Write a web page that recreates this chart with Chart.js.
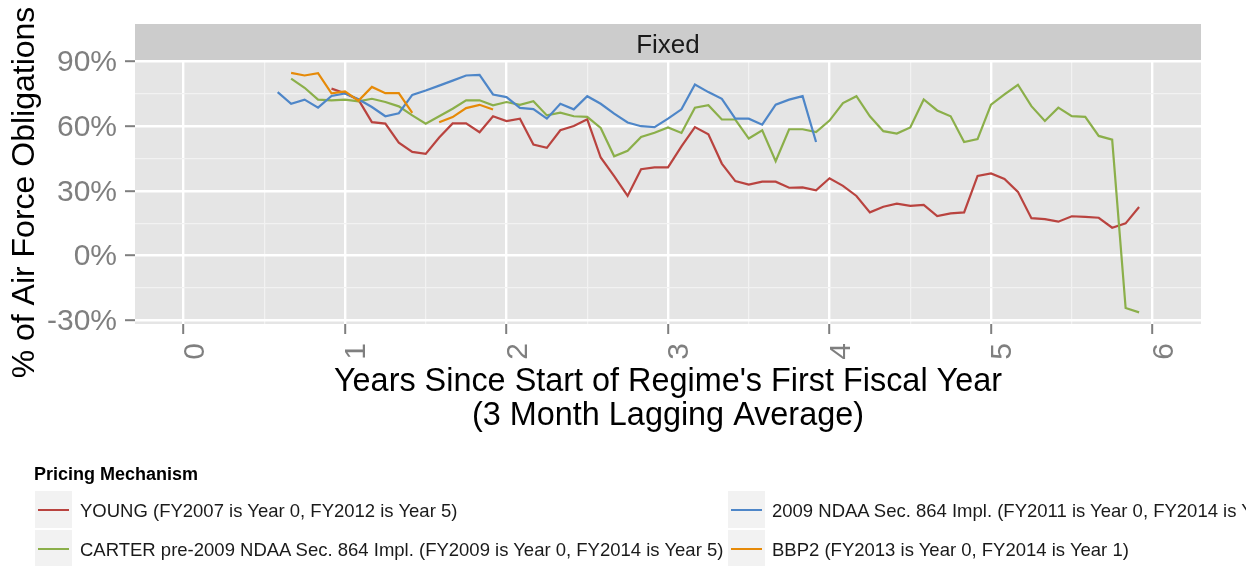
<!DOCTYPE html>
<html><head><meta charset="utf-8">
<script src="https://cdn.jsdelivr.net/npm/chart.js@4.4.1/dist/chart.umd.min.js"></script>
<style>
html,body{margin:0;padding:0;background:#fff;overflow:hidden;}
#wrap{position:relative;width:1246px;height:566px;overflow:hidden;font-family:"Liberation Sans",Arial,sans-serif;}
#c{position:absolute;left:0;top:0;}
.lg-title{position:absolute;left:34px;top:465px;font-size:18px;line-height:18px;font-weight:bold;color:#000;white-space:nowrap;}
.lg-key{position:absolute;width:37px;height:37px;background:#f2f2f2;}
.lg-key span{position:absolute;left:3px;right:3px;top:17.5px;height:2px;}
.lg-text{position:absolute;font-size:18.5px;line-height:18px;color:#1a1a1a;white-space:nowrap;}
</style></head><body>
<div id="wrap"><canvas id="c" width="1246" height="566"></canvas><div id="legend"></div></div>
<script>
// ---------------- DATA ----------------
const stripLabel = "Fixed";
const legendTitle = "Pricing Mechanism";
const seriesLabels = [
  "YOUNG (FY2007 is Year 0, FY2012 is Year 5)",
  "CARTER pre-2009 NDAA Sec. 864 Impl. (FY2009 is Year 0, FY2014 is Year 5)",
  "2009 NDAA Sec. 864 Impl. (FY2011 is Year 0, FY2014 is Year 3)",
  "BBP2 (FY2013 is Year 0, FY2014 is Year 1)"
];
// first month (months since start of regime's first fiscal year) of each series
const seriesStartMonths = [11, 8, 7, 8];
// monthly values, % of Air Force obligations (3 month lagging average)
const youngValues = [
  77.3,75.2,72.2,61.8,61.1,52.3,48.0,47.1,54.7,61.2,
  61.2,57.1,64.5,62.3,63.4,51.4,49.9,58.0,60.0,63.1,
  45.4,36.8,27.6,40.0,40.8,40.8,50.6,59.5,56.2,42.6,
  34.5,32.9,34.2,34.2,31.4,31.6,30.2,35.8,32.3,27.6,
  20.0,22.6,24.0,23.0,23.5,18.3,19.5,20.0,36.9,38.0,
  35.5,29.5,17.3,16.9,15.7,18.2,17.9,17.5,12.9,14.9,
  22.5
];
const carterValues = [
  81.9,77.7,72.2,71.9,72.2,71.4,72.6,71.1,69.1,64.9,
  61.1,64.5,68.0,71.9,71.9,69.6,71.1,69.8,71.5,64.9,
  66.2,64.5,64.2,59.1,46.0,48.5,54.9,56.9,59.3,56.8,
  68.5,69.6,63.0,63.0,54.2,58.0,43.7,58.5,58.5,57.2,
  62.5,70.6,73.8,64.5,57.6,56.5,59.3,72.3,67.2,64.5,
  52.6,53.9,69.9,74.6,79.1,69.2,62.3,68.5,64.6,64.2,
  55.4,53.7,-24.3,-26.3
];
const ndaaValues = [
  75.7,70.3,72.2,68.5,73.9,75.1,72.4,68.8,64.5,65.9,
  74.4,76.4,78.7,81.0,83.4,83.7,74.6,73.4,68.4,67.8,
  63.4,70.3,67.7,73.8,70.3,65.7,61.6,59.9,59.5,63.4,
  67.7,79.2,75.7,72.6,63.4,63.4,60.6,69.9,72.2,73.8,
  52.6
];
const bbp2Values = [84.6,83.4,84.5,75.1,76.0,71.7,78.1,75.2,75.2,66.1,null,61.7,64.1,68.3,69.8,67.6];
const seriesValues = [youngValues, carterValues, ndaaValues, bbp2Values];
const seriesColors = ["#B9433F", "#8BAF4A", "#4E86C8", "#E68A08"];

const xTickLabels = [0, 1, 2, 3, 4, 5, 6];
const xMinorTicks = [0.5, 1.5, 2.5, 3.5, 4.5, 5.5];
const yTickLabels = [-30, 0, 30, 60, 90];
const yMinorTicks = [-15, 15, 45, 75];
const xTitle = ["Years Since Start of Regime's First Fiscal Year", "(3 Month Lagging Average)"];
const yTitle = "% of Air Force Obligations";

// ---------------- CHART ----------------
const FONT = '"Liberation Sans", Arial, sans-serif';
Chart.defaults.font.family = FONT;

const datasets = seriesLabels.map((label, s) => ({
  label,
  data: seriesValues[s].map((v, i) => ({ x: (seriesStartMonths[s] + i) / 12, y: v })),
  borderColor: seriesColors[s],
  backgroundColor: seriesColors[s],
  borderWidth: 2.2,
  pointRadius: 0,
  tension: 0,
  spanGaps: false,
  order: seriesLabels.length - s
}));

const panelPlugin = {
  id: 'panel',
  beforeDraw(chart) {
    const { ctx, chartArea: a } = chart;
    ctx.save();
    ctx.fillStyle = '#e5e5e5';
    ctx.fillRect(a.left, a.top, a.right - a.left, a.bottom - a.top);
    ctx.fillStyle = '#cccccc';
    ctx.fillRect(a.left, 24, a.right - a.left, a.top - 24);
    ctx.fillStyle = '#1a1a1a';
    ctx.font = '26px ' + FONT;
    ctx.textAlign = 'center';
    ctx.textBaseline = 'alphabetic';
    ctx.fillText(stripLabel, (a.left + a.right) / 2, 53);
    ctx.restore();
  }
};

function setTicks(major, minor) {
  return scale => {
    scale.ticks = major.concat(minor).sort((a, b) => a - b).map(v => ({ value: v }));
  };
}
const isMajor = (list, v) => list.some(t => Math.abs(t - v) < 1e-9);

new Chart(document.getElementById('c'), {
  type: 'line',
  data: { datasets },
  plugins: [panelPlugin],
  options: {
    responsive: false,
    animation: false,
    devicePixelRatio: 1,
    layout: { padding: { top: 61, right: 45, bottom: 0, left: 0 } },
    plugins: { legend: { display: false }, tooltip: { enabled: false } },
    scales: {
      x: {
        type: 'linear',
        min: -0.3, max: 6.3,
        afterBuildTicks: setTicks(xTickLabels, xMinorTicks),
        afterFit: s => { s.height = 242; },
        border: { display: false },
        grid: {
          color: c => isMajor(xTickLabels, c.tick.value) ? '#ffffff' : '#f2f2f2',
          lineWidth: c => isMajor(xTickLabels, c.tick.value) ? 2.4 : 1.2,
          tickColor: c => isMajor(xTickLabels, c.tick.value) ? '#7f7f7f' : 'rgba(0,0,0,0)',
          tickWidth: 2, tickLength: 10, drawTicks: true
        },
        ticks: {
          autoSkip: false, minRotation: 90, maxRotation: 90, padding: 9, labelOffset: 12,
          color: '#7f7f7f', font: { size: 30 },
          callback: v => isMajor(xTickLabels, v) ? String(v) : ''
        },
        title: {
          display: true, text: xTitle, color: '#000',
          font: { size: 32.4, lineHeight: 1.03 },
          padding: { top: 0, bottom: 133.6 }
        }
      },
      y: {
        type: 'linear',
        min: -31.7, max: 90.1,
        afterBuildTicks: setTicks(yTickLabels, yMinorTicks),
        afterFit: s => { s.width = 135; },
        border: { display: false },
        grid: {
          color: c => isMajor(yTickLabels, c.tick.value) ? '#ffffff' : '#f2f2f2',
          lineWidth: c => isMajor(yTickLabels, c.tick.value) ? 2.4 : 1.2,
          tickColor: c => isMajor(yTickLabels, c.tick.value) ? '#7f7f7f' : 'rgba(0,0,0,0)',
          tickWidth: 2, tickLength: 10, drawTicks: true
        },
        ticks: {
          autoSkip: false, padding: 8, labelOffset: 1.5,
          color: '#7f7f7f', font: { size: 30 },
          callback: v => isMajor(yTickLabels, v) ? v + '%' : ''
        },
        title: {
          display: true, text: yTitle, color: '#000',
          font: { size: 32, lineHeight: 1.2 },
          padding: { top: 6, bottom: 0 }
        }
      }
    }
  }
});

// ---------------- LEGEND (HTML, from the series arrays) ----------------
const lg = document.getElementById('legend');
const t = document.createElement('div');
t.className = 'lg-title'; t.textContent = legendTitle; lg.appendChild(t);
const keyLeft = [35, 728], textLeft = [80, 772], rowTop = [491, 530];
seriesLabels.forEach((label, i) => {
  const col = Math.floor(i / 2), row = i % 2;
  const key = document.createElement('div');
  key.className = 'lg-key';
  key.style.left = keyLeft[col] + 'px';
  key.style.top = rowTop[row] + 'px';
  const line = document.createElement('span');
  line.style.background = seriesColors[i];
  key.appendChild(line);
  lg.appendChild(key);
  const txt = document.createElement('div');
  txt.className = 'lg-text';
  txt.style.left = textLeft[col] + 'px';
  txt.style.top = (rowTop[row] + 11) + 'px';
  txt.textContent = label;
  lg.appendChild(txt);
});
</script>
</body></html>
